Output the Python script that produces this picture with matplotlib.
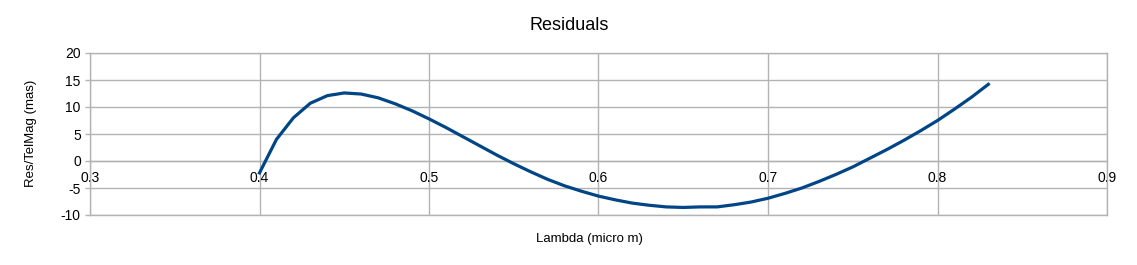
import matplotlib
matplotlib.use("Agg")
import matplotlib.pyplot as plt

plt.rcParams['font.family'] = ['Liberation Sans', 'DejaVu Sans']

wavelength = [0.40, 0.41, 0.42, 0.43, 0.44, 0.45, 0.46, 0.47, 0.48, 0.49,
              0.50, 0.51, 0.52, 0.53, 0.54, 0.55, 0.56, 0.57, 0.58, 0.59,
              0.60, 0.61, 0.62, 0.63, 0.64, 0.65, 0.66, 0.67, 0.68, 0.69,
              0.70, 0.71, 0.72, 0.73, 0.74, 0.75, 0.76, 0.77, 0.78, 0.79,
              0.80, 0.81, 0.82, 0.83]
residuals = [-2.2, 4.0, 8.0, 10.7, 12.1, 12.6, 12.4, 11.7, 10.6, 9.3,
             7.8, 6.2, 4.5, 2.8, 1.1, -0.5, -2.0, -3.4, -4.6, -5.6,
             -6.5, -7.2, -7.8, -8.2, -8.5, -8.6, -8.5, -8.5, -8.1, -7.6,
             -6.9, -6.0, -5.0, -3.8, -2.5, -1.1, 0.5, 2.1, 3.8, 5.6,
             7.5, 9.6, 11.8, 14.2]
x_ticks = [0.3, 0.4, 0.5, 0.6, 0.7, 0.8, 0.9]
y_ticks = [-10, -5, 0, 5, 10, 15, 20]

W, H = 1137, 265
fig = plt.figure(figsize=(W / 100, H / 100), dpi=100)
ax = fig.add_axes([90 / W, 1 - 215 / H, (1107 - 90) / W, (215 - 53) / H])

grid_c = '#b3b3b3'
ax.plot(wavelength, residuals, color='#004586', linewidth=2.3, solid_joinstyle='round', zorder=3)

ax.set_xlim(0.3, 0.9)
ax.set_ylim(-10, 20)
ax.set_xticks(x_ticks)
ax.set_xticklabels([f"{v:g}" for v in x_ticks])
ax.set_yticks(y_ticks)
ax.set_yticklabels([f"{v:g}" for v in y_ticks])
ax.grid(True, color=grid_c, linewidth=1.0, zorder=0)
for s in ['top', 'left', 'right']:
    ax.spines[s].set_color(grid_c)
    ax.spines[s].set_linewidth(1.0)
ax.spines['bottom'].set_position(('data', 0))
ax.spines['bottom'].set_color(grid_c)
ax.spines['bottom'].set_linewidth(1.0)
ax.tick_params(axis='x', length=0, pad=7.5, labelsize=10, colors='black')
ax.tick_params(axis='y', length=3.6, width=1.0, color=grid_c, pad=3, labelsize=10, labelcolor='black')
ax.axhline(-10, color=grid_c, linewidth=1.0, zorder=0, clip_on=False)

fig.text(569 / W, 1 - 25 / H, 'Residuals', ha='center', va='center', fontsize=13)
fig.text(589 / W, 1 - 239 / H, 'Lambda (micro m)', ha='center', va='center', fontsize=9.5)
fig.text(31 / W, 1 - 133 / H, 'Res/TelMag (mas)', ha='center', va='center', rotation=90, fontsize=9.5)

fig.savefig('out.png', dpi=100)
